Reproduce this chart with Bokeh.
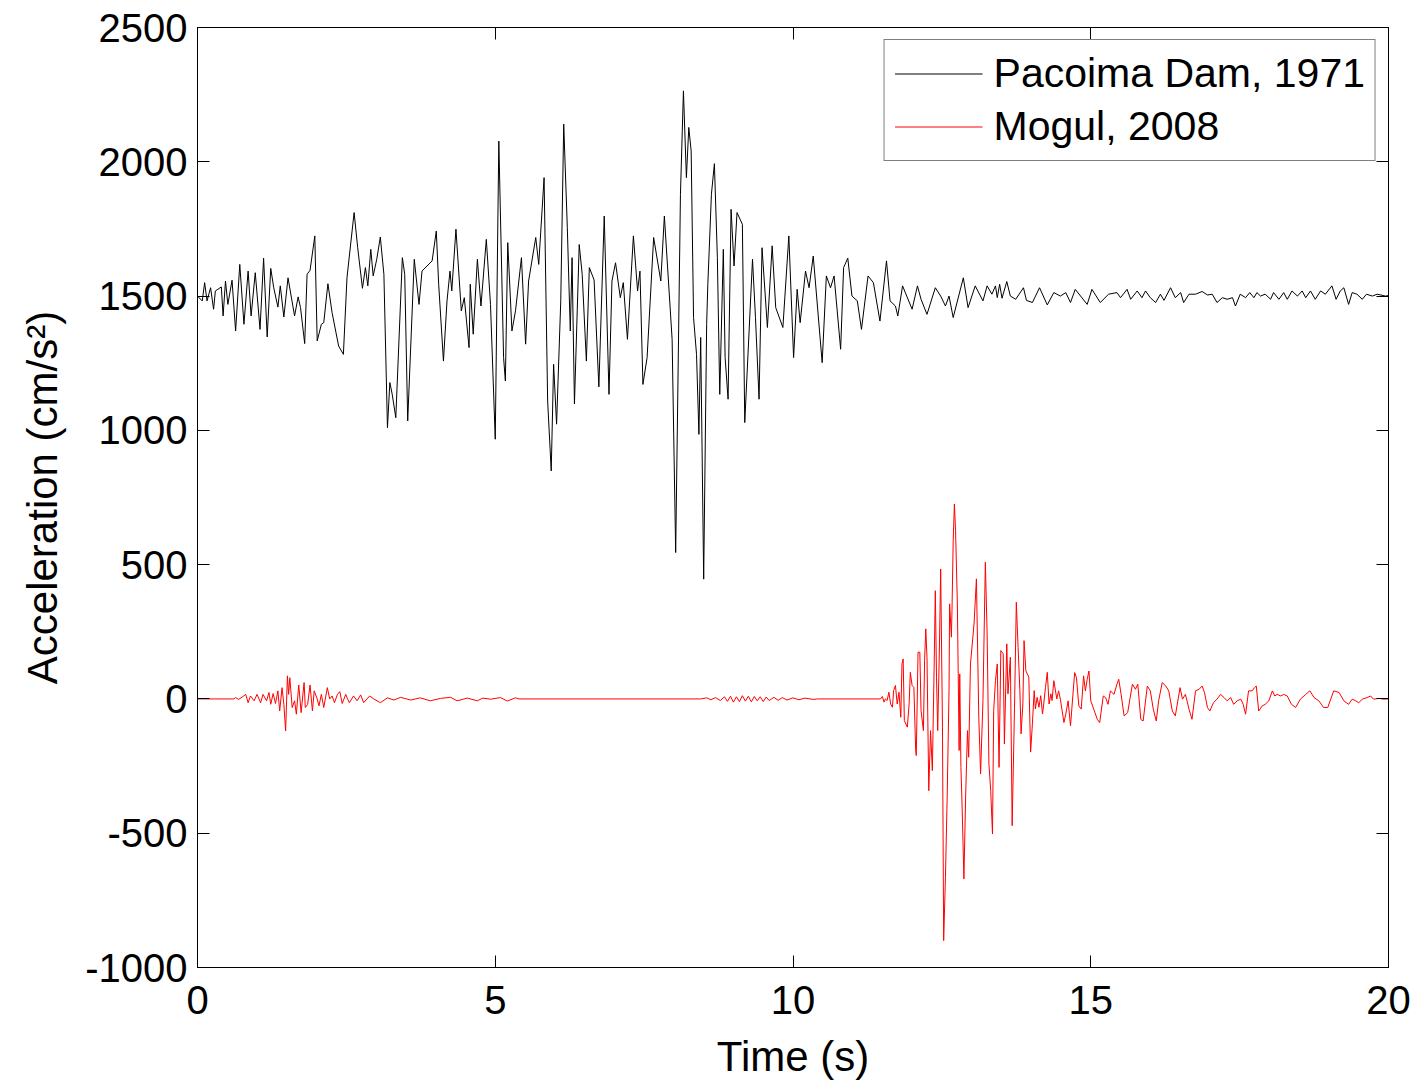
from bokeh.plotting import figure
from bokeh.models import LinearAxis, FixedTicker, Range1d
from bokeh.embed import file_html
from bokeh.resources import INLINE

# ---------------- data ----------------
series_labels = ["Pacoima Dam, 1971", "Mogul, 2008"]

t_pacoima = [
    0.00, 0.08, 0.12, 0.16, 0.22, 0.27, 0.30, 0.40, 0.43, 0.47, 0.51, 0.58, 0.64, 0.71, 0.78, 0.85,
    0.90, 0.97, 1.05, 1.11, 1.17, 1.23, 1.28, 1.35, 1.39, 1.45, 1.52, 1.63, 1.69, 1.73, 1.80, 1.84,
    1.89, 1.97, 2.01, 2.08, 2.12, 2.19, 2.26, 2.37, 2.45, 2.51, 2.63, 2.69, 2.77, 2.82, 2.86, 2.91,
    2.95, 3.01, 3.07, 3.13, 3.19, 3.23, 3.27, 3.33, 3.44, 3.48, 3.53, 3.64, 3.72, 3.77, 3.94, 4.01,
    4.05, 4.13, 4.19, 4.24, 4.27, 4.34, 4.43, 4.48, 4.56, 4.58, 4.63, 4.70, 4.76, 4.85, 4.92, 5.00,
    5.06, 5.14, 5.17, 5.21, 5.28, 5.34, 5.44, 5.51, 5.56, 5.68, 5.73, 5.82, 5.88, 5.94, 5.98, 6.03,
    6.10, 6.15, 6.21, 6.26, 6.29, 6.33, 6.41, 6.46, 6.53, 6.58, 6.66, 6.74, 6.83, 6.91, 6.96, 7.02,
    7.10, 7.15, 7.22, 7.32, 7.39, 7.43, 7.48, 7.55, 7.66, 7.78, 7.84, 7.97, 8.03, 8.11, 8.16, 8.21,
    8.25, 8.29, 8.33, 8.38, 8.42, 8.45, 8.50, 8.55, 8.57, 8.63, 8.68, 8.73, 8.77, 8.83, 8.86, 8.91,
    8.96, 9.01, 9.06, 9.15, 9.19, 9.32, 9.37, 9.43, 9.48, 9.57, 9.65, 9.71, 9.83, 9.93, 10.01, 10.07,
    10.12, 10.21, 10.27, 10.34, 10.49, 10.56, 10.63, 10.69, 10.80, 10.85, 10.92, 10.99, 11.08, 11.15,
    11.26, 11.35, 11.46, 11.57, 11.63, 11.72, 11.76, 11.84, 12.00, 12.09, 12.15, 12.25, 12.39, 12.48,
    12.56, 12.62, 12.69, 12.86, 12.94, 13.06, 13.19, 13.26, 13.34, 13.40, 13.43, 13.47, 13.51, 13.59,
    13.65, 13.74, 13.87, 13.92, 14.02, 14.14, 14.27, 14.38, 14.49, 14.58, 14.66, 14.74, 14.94, 15.02,
    15.16, 15.30, 15.44, 15.50, 15.61, 15.67, 15.78, 15.86, 15.92, 16.00, 16.09, 16.17, 16.23, 16.34,
    16.42, 16.51, 16.56, 16.65, 16.76, 16.87, 16.96, 17.04, 17.12, 17.21, 17.29, 17.38, 17.43, 17.51,
    17.60, 17.67, 17.74, 17.79, 17.85, 17.93, 18.02, 18.07, 18.16, 18.24, 18.30, 18.38, 18.47, 18.55,
    18.61, 18.69, 18.77, 18.86, 18.94, 19.05, 19.12, 19.19, 19.25, 19.33, 19.39, 19.47, 19.56, 19.63,
    19.73, 19.81, 19.95, 20.00,
]
a_pacoima = [
    1500, 1482, 1550, 1482, 1531, 1451, 1519, 1534, 1426, 1556, 1469, 1559, 1370, 1618, 1395, 1593,
    1426, 1587, 1376, 1641, 1348, 1603, 1531, 1459, 1538, 1422, 1568, 1426, 1497, 1457, 1323, 1581,
    1596, 1724, 1333, 1395, 1401, 1546, 1438, 1314, 1283, 1568, 1811, 1680, 1529, 1606, 1538, 1674,
    1575, 1637, 1720, 1581, 1010, 1178, 1134, 1047, 1643, 1581, 1035, 1637, 1469, 1593, 1631, 1742,
    1544, 1258, 1482, 1593, 1519, 1749, 1445, 1494, 1308, 1544, 1358, 1637, 1463, 1711, 1469, 967,
    2077, 1271, 1184, 1699, 1370, 1445, 1643, 1321, 1556, 1718, 1618, 1941, 1109, 849, 1246, 1023,
    1482, 2140, 1756, 1370, 1643, 1098, 1692, 1581, 1258, 1606, 1560, 1162, 1798, 1134, 1556, 1624,
    1494, 1550, 1339, 1724, 1519, 1593, 1171, 1271, 1718, 1556, 1798, 1339, 545, 1879, 2264, 1941,
    2128, 2040, 1420, 1283, 985, 1346, 446, 1395, 1544, 1879, 1993, 1643, 1134, 1674, 1271, 1116,
    1823, 1612, 1811, 1767, 1029, 1637, 1420, 1116, 1680, 1383, 1687, 1457, 1383, 1724, 1271, 1525,
    1401, 1593, 1531, 1649, 1252, 1575, 1531, 1575, 1302, 1606, 1641, 1500, 1482, 1376,
    1575, 1550, 1407, 1631, 1482, 1463, 1426, 1538, 1451, 1538, 1488, 1432, 1531, 1500,
    1463, 1500, 1420, 1568, 1457, 1538, 1482, 1538, 1507, 1538, 1494, 1544, 1492, 1554,
    1500, 1488, 1531, 1484, 1476, 1531, 1467, 1513, 1500, 1513, 1476, 1525, 1469, 1525,
    1476, 1507, 1513, 1494, 1525, 1488, 1519, 1494, 1519, 1494, 1476, 1507, 1484, 1531,
    1494, 1513, 1476, 1507, 1507, 1517, 1504, 1507, 1476, 1494, 1488, 1494, 1463, 1507,
    1494, 1513, 1494, 1513, 1500, 1507, 1488, 1513, 1488, 1513, 1488, 1519, 1500, 1519,
    1494, 1519, 1488, 1519, 1507, 1538, 1488, 1519, 1531, 1469, 1513, 1507, 1488, 1507,
    1500, 1507, 1500, 1502,
]

t_mogul = [
    0.00, 0.61, 0.64, 0.69, 0.75, 0.81, 0.85, 0.89, 0.95, 1.00, 1.06, 1.10, 1.16, 1.20, 1.23, 1.27,
    1.31, 1.35, 1.38, 1.42, 1.45, 1.48, 1.51, 1.53, 1.55, 1.59, 1.63, 1.66, 1.70, 1.74, 1.79, 1.81,
    1.85, 1.89, 1.93, 1.96, 2.01, 2.04, 2.08, 2.12, 2.18, 2.22, 2.26, 2.30, 2.35, 2.39, 2.43, 2.49,
    2.52, 2.55, 2.62, 2.68, 2.74, 2.79, 2.89, 2.96, 3.07, 3.19, 3.30, 3.41, 3.58, 3.74, 3.91, 4.08,
    4.25, 4.36, 4.53, 4.70, 4.79, 4.92, 5.09, 5.20, 5.34, 5.40, 8.45, 8.55, 8.62, 8.70, 8.78, 8.85,
    8.90, 8.95, 9.00, 9.05, 9.10, 9.15, 9.20, 9.25, 9.30, 9.35, 9.40, 9.45, 9.50, 9.55, 9.60, 9.68,
    9.75, 9.82, 9.90, 10.00, 10.10, 10.20, 10.35, 10.41, 11.47, 11.50, 11.53, 11.55, 11.58, 11.61,
    11.64, 11.67, 11.69, 11.72, 11.75, 11.78, 11.81, 11.83, 11.85, 11.87, 11.92, 11.95, 11.97, 12.00,
    12.03, 12.06, 12.07, 12.10, 12.13, 12.15, 12.19, 12.21, 12.23, 12.25, 12.28, 12.31, 12.34, 12.37,
    12.39, 12.41, 12.43, 12.46, 12.48, 12.51, 12.53, 12.56, 12.59, 12.62, 12.63, 12.66, 12.67, 12.69,
    12.71, 12.73, 12.76, 12.79, 12.80, 12.82, 12.84, 12.87, 12.90, 12.93, 12.95, 12.98, 13.04, 13.08,
    13.12, 13.15, 13.19, 13.23, 13.26, 13.29, 13.32, 13.35, 13.37, 13.40, 13.43, 13.46, 13.49, 13.53,
    13.55, 13.59, 13.61, 13.65, 13.68, 13.72, 13.75, 13.78, 13.81, 13.83, 13.86, 13.88, 13.91, 13.96,
    13.99, 14.02, 14.05, 14.07, 14.10, 14.13, 14.16, 14.19, 14.21, 14.24, 14.27, 14.30, 14.33, 14.35,
    14.38, 14.43, 14.46, 14.49, 14.55, 14.58, 14.62, 14.66, 14.73, 14.76, 14.80, 14.84, 14.88, 14.91,
    14.94, 14.97, 15.00, 15.05, 15.11, 15.15, 15.21, 15.25, 15.29, 15.33, 15.39, 15.44, 15.47, 15.51,
    15.56, 15.62, 15.70, 15.75, 15.79, 15.84, 15.88, 15.95, 16.00, 16.05, 16.10, 16.14, 16.20, 16.26,
    16.31, 16.37, 16.42, 16.50, 16.54, 16.59, 16.65, 16.70, 16.76, 16.82, 16.87, 16.91, 16.96, 17.00,
    17.06, 17.12, 17.18, 17.24, 17.29, 17.35, 17.40, 17.46, 17.52, 17.56, 17.60, 17.65, 17.71, 17.75,
    17.78, 17.82, 17.88, 17.93, 17.99, 18.05, 18.09, 18.13, 18.19, 18.24, 18.30, 18.37, 18.44, 18.52,
    18.61, 18.68, 18.75, 18.83, 18.91, 18.98, 19.08, 19.17, 19.25, 19.33, 19.39, 19.45, 19.50, 19.56,
    19.64, 19.70, 19.75, 19.84, 19.92, 20.00,
]
a_mogul = [
    0, 0, 5, -2, 7, 17, -14, 11, -7, 17, -14, 17, -7, 24, -20, 20,
    -17, 30, -45, 42, -20, -119, 86, 17, 79, -32, -7, -57, 52, -51, 61, -32,
    -20, 52, -45, 30, 0, -26, 17, -32, 42, 0, 11, -14, 17, 27, -17, 17,
    0, -14, 11, -7, 15, -14, 11, 0, -14, 4, -4, 6, -4, 4, -7, 2,
    6, -7, 3, -7, 3, -1, 5, -8, 4, 0, 0, 4, -3, 5, -6, 8,
    -9, 10, -12, 8, -10, 12, -8, 10, -11, 9, -7, 8, -10, 7, -6, 6,
    -5, 5, -4, 4, -3, 3, -2, 0, 0, 9, -12, 0, -6, 25,
    -19, -31, 31, 50, -19, 25, -68, 130, 149, -81, -105, -19, 99, 50,
    43, -192, -211, 174, 174, -43, -118, 143, 261, 155, -342, -118, -267, 118,
    403, 81, -118, 205, 484, -105, -900, -664, -354, 31, 354, 230, 329, 589,
    726, 626, 354, -192, 93, -255, -403, -670, -354, -118, -217, 130, 279, 447,
    -68, -279, -6, 509, 242, -242, -342, -503, -43, 68, 130, -255, 180, 168,
    -168, 205, 19, 155, -472, -31, 360, 192, 31, -130, -19, 217, 105, 81,
    -198, -93, 31, -37, 6, -31, 12, -56, -19, 43, 99, -19, 19, -6,
    68, 0, 30, -1, -88, -57, -7, -100, 98, 79, -26, -38, 86, 30,
    73, 104, -7, -38, -76, -88, 11, 5, -20, 30, 17, 55, 73, 17,
    -63, -51, 55, 36, 55, -76, -82, 48, 30, -38, -82, -7, 61, 48,
    30, -45, -63, 42, -1, 17, -38, -76, 30, 36, 48, 24, -32, -45,
    -14, -1, 17, 5, -7, 5, -20, -7, -1, -20, -57, 30, 30, 42,
    48, -45, -26, -20, -7, 30, 11, 17, 11, 17, 11, -20, -32, -1,
    17, 30, 5, -7, -32, -32, 30, 24, -7, -20, -1, -7, -14, -1,
    5, 11, -1, 2, -1, 0,
]

x_ticks = [0, 5, 10, 15, 20]
y_ticks = [-1000, -500, 0, 500, 1000, 1500, 2000, 2500]
y_tick_labels = ["-1000", "-500", "0", "500", "1000", "1500", "2000", "2500"]
x_label = "Time (s)"
y_label = "Acceleration (cm/s\u00b2)"

FONT = "Liberation Sans"

p = figure(
    width=1416, height=1085,
    x_range=Range1d(0, 20), y_range=Range1d(-1000, 2500),
    output_backend="svg", toolbar_location=None,
    min_border_left=197, min_border_right=28, min_border_top=27, min_border_bottom=118,
    background_fill_color="white", border_fill_color="white",
)
p.grid.visible = False
p.outline_line_color = "black"
p.outline_line_width = 1

p.line(t_pacoima, a_pacoima, line_color="black", line_width=1, legend_label=series_labels[0])
p.line(t_mogul, a_mogul, line_color="#ff0000", line_width=1, legend_label=series_labels[1])

def style_axis(ax, ticks, show_labels=True):
    ax.ticker = FixedTicker(ticks=ticks)
    ax.major_tick_in = 12
    ax.major_tick_out = 0
    ax.minor_tick_in = 0
    ax.minor_tick_out = 0
    ax.axis_line_color = "black"
    ax.major_tick_line_color = "black"
    ax.major_label_text_font = FONT
    ax.major_label_text_font_size = "40px"
    ax.major_label_text_color = "black" if show_labels else None
    ax.axis_label_text_font = FONT
    ax.axis_label_text_font_size = "42px"
    ax.axis_label_text_font_style = "normal"
    ax.axis_label_text_color = "black"

xa = p.xaxis[0]
style_axis(xa, x_ticks)
xa.axis_label = x_label
xa.major_label_standoff = 18
xa.axis_label_standoff = 16

ya = p.yaxis[0]
style_axis(ya, y_ticks)
ya.axis_label = y_label
ya.major_label_standoff = 10
ya.axis_label_standoff = 16
ya.major_label_overrides = {v: s for v, s in zip(y_ticks, y_tick_labels)}

top = LinearAxis()
style_axis(top, x_ticks, show_labels=False)
p.add_layout(top, "above")
right = LinearAxis()
style_axis(right, y_ticks, show_labels=False)
p.add_layout(right, "right")

lg = p.legend[0]
lg.location = "top_right"
lg.margin = 12
lg.padding = 10
lg.spacing = 6
lg.glyph_width = 88
lg.glyph_height = 43
lg.label_height = 43
lg.label_standoff = 11
lg.label_text_font = FONT
lg.label_text_font_size = "41px"
lg.label_text_color = "black"
lg.border_line_color = "black"
lg.border_line_width = 1
lg.background_fill_color = "white"
lg.background_fill_alpha = 1.0

open("out.html", "w").write(file_html(p, INLINE))
